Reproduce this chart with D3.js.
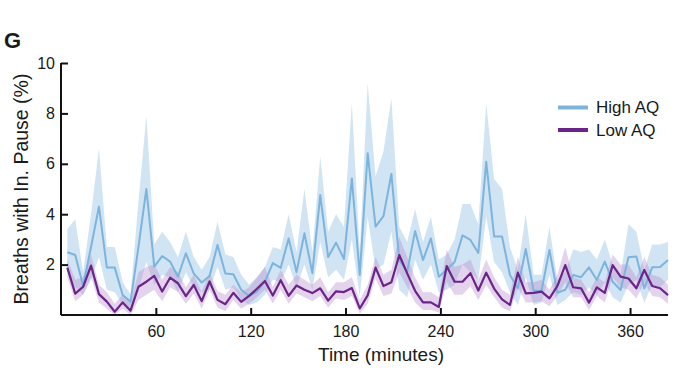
<!DOCTYPE html>
<html><head><meta charset="utf-8">
<script src="https://cdn.jsdelivr.net/npm/d3@7"></script>
<style>html,body{margin:0;padding:0;background:#fff;} svg{display:block;font-family:"Liberation Sans",Arial,Helvetica,sans-serif;}</style>
</head><body>
<script>
const times = [4,9,14,19,24,29,34,39,44,49,54,59,64,69,74,79,84,89,94,99,104,109,114,119,124,129,134,139,144,149,154,159,164,169,174,179,184,189,194,199,204,209,214,219,224,229,234,239,244,249,254,259,264,269,274,279,284,289,294,299,304,309,314,319,324,329,334,339,344,349,354,359,364,369,374,379,384];
const highAQ = [2.49,2.38,1.16,2.7,4.3,1.88,1.88,0.79,0.53,2.7,5.0,1.92,2.34,2.12,1.52,2.45,1.64,1.29,1.55,2.78,1.65,1.62,1.0,0.75,0.93,1.32,2.06,1.87,3.04,1.70,3.24,1.66,4.76,2.3,2.87,2.22,5.42,1.59,6.42,3.51,3.92,5.6,2.18,1.72,3.33,2.18,3.04,1.52,1.8,2.1,3.16,2.98,2.46,6.08,3.12,3.12,1.59,1.06,2.62,0.96,0.96,2.58,0.88,1.0,1.59,1.5,1.89,1.39,2.12,1.32,0.99,2.29,2.32,1.06,1.89,1.9,2.18];
const highUpper = [3.4,3.8,1.7,4.0,6.6,2.7,2.7,1.3,0.8,4.5,7.9,2.8,3.3,2.9,2.3,3.3,2.3,1.8,2.3,3.7,2.4,2.3,1.6,1.2,1.5,1.9,2.7,2.6,4.0,2.5,5.0,2.5,6.3,3.3,4.0,3.5,8.4,2.5,9.2,5.5,6.5,8.6,3.5,2.9,4.2,2.9,3.9,2.2,2.4,3.0,4.4,4.4,3.6,8.4,5.4,5.0,2.7,1.8,4.0,1.6,1.6,3.5,1.4,1.7,2.6,2.5,2.6,2.2,3.0,2.0,1.6,3.6,3.3,1.8,2.8,2.8,2.9];
const highLower = [1.8,1.1,0.8,1.4,2.3,1.0,0.9,0.4,0.3,1.0,2.1,1.2,1.6,1.5,0.9,1.7,1.1,0.9,1.0,1.9,1.0,1.1,0.6,0.4,0.5,0.8,1.4,1.3,2.0,1.1,2.0,1.0,2.9,1.5,1.8,1.4,3.0,0.7,3.9,1.8,2.0,3.3,1.0,0.7,2.2,1.4,2.0,0.9,1.0,1.2,2.0,1.7,1.4,3.9,2.1,1.7,0.9,0.4,1.5,0.4,0.5,1.6,0.4,0.6,0.9,0.8,1.1,0.8,1.3,0.7,0.5,1.2,1.4,0.5,1.2,1.1,1.4];
const lowAQ = [1.88,0.85,1.12,1.96,0.83,0.53,0.13,0.5,0.17,1.12,1.32,1.55,0.93,1.48,1.26,0.75,1.19,0.55,1.33,0.6,0.43,0.88,0.52,0.76,1.04,1.35,0.77,1.38,0.76,1.17,1.0,0.87,1.06,0.57,0.94,0.91,1.07,0.26,0.78,1.88,1.15,1.3,2.38,1.65,0.96,0.5,0.5,0.32,1.94,1.32,1.32,1.66,0.97,1.68,1.05,0.62,0.4,1.68,0.86,0.88,0.93,0.66,1.15,1.98,1.1,1.06,0.49,1.1,0.88,1.98,1.52,1.45,1.06,1.79,1.15,1.06,0.79];
const lowUpper = [2.2,1.4,1.5,2.4,1.2,0.9,0.45,0.8,0.5,1.7,1.9,2.0,1.4,1.9,1.7,1.1,1.6,0.9,1.7,0.95,0.8,1.2,0.9,1.1,1.5,1.9,1.1,1.8,1.2,1.6,1.4,1.2,1.5,0.9,1.3,1.3,1.5,0.6,1.2,2.3,1.6,1.8,3.1,2.3,1.5,0.9,0.9,0.7,2.6,1.9,2.0,2.2,1.4,2.2,1.5,1.0,0.8,2.3,1.3,1.3,1.4,1.0,1.6,2.7,1.5,1.4,0.9,1.5,1.3,2.4,2.0,2.0,1.5,2.3,1.6,1.5,1.2];
const lowLower = [1.5,0.55,0.8,1.5,0.5,0.25,0.0,0.25,0.0,0.6,0.8,1.0,0.55,1.1,0.9,0.45,0.85,0.25,1.0,0.3,0.15,0.6,0.25,0.45,0.7,1.0,0.45,1.0,0.45,0.85,0.7,0.55,0.75,0.3,0.65,0.6,0.75,0.05,0.45,1.45,0.75,0.85,1.7,1.1,0.5,0.2,0.2,0.1,1.3,0.8,0.8,1.15,0.6,1.2,0.7,0.3,0.15,1.1,0.5,0.5,0.55,0.35,0.75,1.3,0.7,0.7,0.2,0.75,0.5,1.5,1.1,1.0,0.65,1.3,0.75,0.7,0.45];
const xTicks = [60,120,180,240,300,360];
const yTicks = [2,4,6,8,10];
const seriesNames = ["High AQ","Low AQ"];

const W = 689, H = 388;
const svg = d3.select("body").append("svg").attr("width", W).attr("height", H);
const x = d3.scaleLinear().domain([0, 384]).range([61, 668]);
const y = d3.scaleLinear().domain([0, 10]).range([315, 63]);

const blueLine = "#7cb4de", blueBand = "rgba(150,195,228,0.45)";
const purpLine = "#6b2487", purpBand = "rgba(185,140,205,0.38)";

function band(lo, hi) {
  return d3.area().x((d,i)=>x(times[i])).y0((d,i)=>y(lo[i])).y1((d,i)=>y(hi[i]))(times);
}
function line(vals) {
  return d3.line().x((d,i)=>x(times[i])).y((d,i)=>y(vals[i]))(times);
}
svg.append("path").attr("d", band(highLower, highUpper)).attr("fill", blueBand);
svg.append("path").attr("d", band(lowLower, lowUpper)).attr("fill", purpBand);
svg.append("path").attr("d", line(highAQ)).attr("fill","none").attr("stroke", blueLine).attr("stroke-width", 2).attr("stroke-linejoin","round");
svg.append("path").attr("d", line(lowAQ)).attr("fill","none").attr("stroke", purpLine).attr("stroke-width", 2.2).attr("stroke-linejoin","round");

// axes
const xAxis = svg.append("g").attr("transform", "translate(0,315)")
  .call(d3.axisBottom(x).tickValues(xTicks).tickSize(-7).tickPadding(11).tickSizeOuter(0));
const yAxis = svg.append("g").attr("transform", "translate(61,0)")
  .call(d3.axisLeft(y).tickValues(yTicks).tickSize(-7).tickPadding(6).tickSizeOuter(0));
[xAxis, yAxis].forEach(g => {
  g.select(".domain").attr("stroke", "#111").attr("stroke-width", 2);
  g.selectAll(".tick line").attr("stroke", "#111").attr("stroke-width", 2);
  g.selectAll(".tick text").attr("fill", "#1a1a1a").style("font-size", "16px").style("font-family", "'Liberation Sans',Arial,sans-serif");
});
xAxis.select(".domain").attr("d", "M" + x.range()[0] + ",0H" + x.range()[1]);
yAxis.select(".domain").attr("d", "M0," + y(0) + "V" + y(10));

svg.append("text").attr("x", 381).attr("y", 361).attr("text-anchor", "middle")
  .style("font-size", "19px").attr("fill", "#1a1a1a").text("Time (minutes)");
svg.append("text").attr("transform", "translate(28,189) rotate(-90)").attr("text-anchor", "middle")
  .style("font-size", "19.5px").attr("fill", "#1a1a1a").text("Breaths with In. Pause (%)");
svg.append("text").attr("x", 4).attr("y", 48).style("font-size", "22px").style("font-weight", "bold")
  .attr("fill", "#1a1a1a").text("G");

// legend
const legend = [{name: seriesNames[0], c: blueLine, yy: 107.5}, {name: seriesNames[1], c: purpLine, yy: 130}];
legend.forEach(l => {
  svg.append("line").attr("x1", 558).attr("x2", 588).attr("y1", l.yy).attr("y2", l.yy)
    .attr("stroke", l.c).attr("stroke-width", 4);
  svg.append("text").attr("x", 596).attr("y", l.yy + 5.5).style("font-size", "17px").attr("fill", "#1a1a1a").text(l.name);
});
</script>
</body></html>
